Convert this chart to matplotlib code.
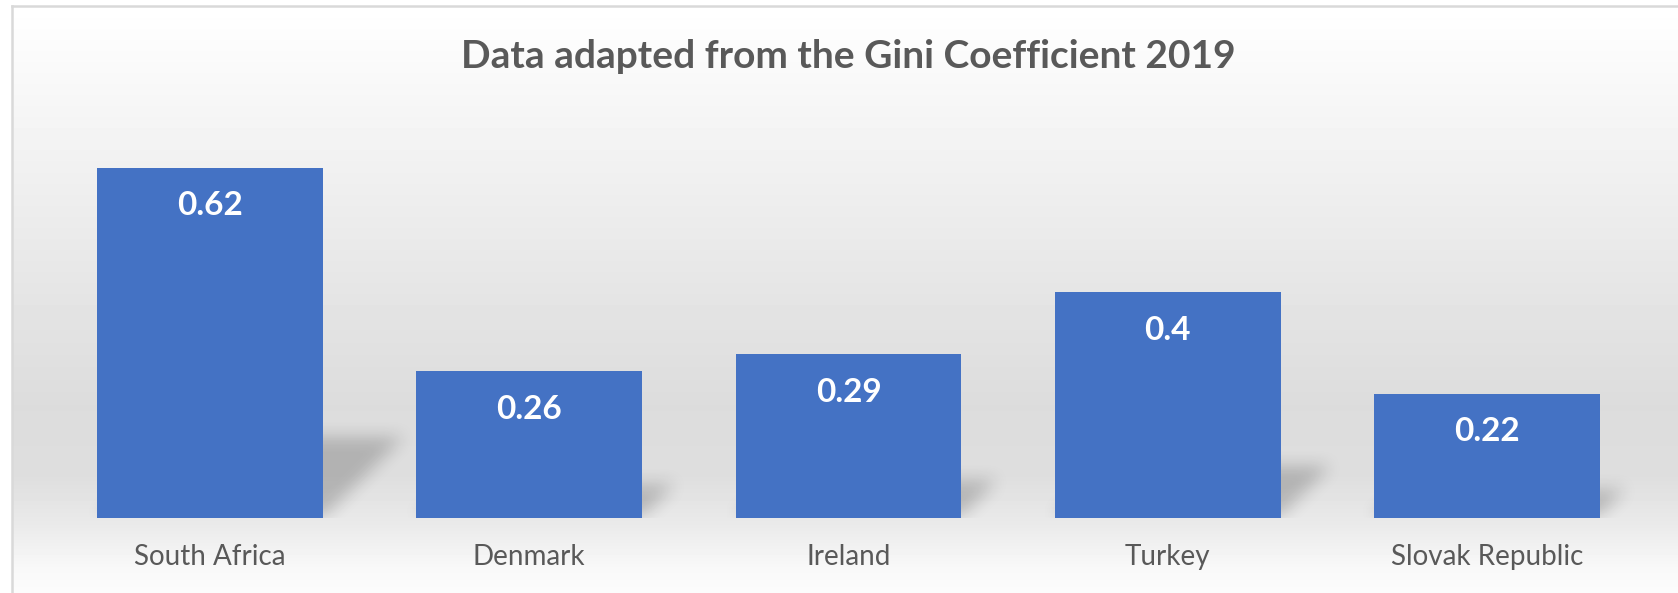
import numpy as np
import matplotlib
matplotlib.use("Agg")
import matplotlib.pyplot as plt
from matplotlib.lines import Line2D

countries = ["South Africa", "Denmark", "Ireland", "Turkey", "Slovak Republic"]
gini = [0.62, 0.26, 0.29, 0.4, 0.22]
value_labels = ["0.62", "0.26", "0.29", "0.4", "0.22"]
title = "Data adapted from the Gini Coefficient 2019"

W, H = 1678, 593
fig = plt.figure(figsize=(W / 100, H / 100), dpi=100)
fig.patch.set_facecolor("white")

# background gradient inside the chart frame
bg = fig.add_axes([12 / W, 0, 1 - 12 / W, 1 - 6 / H], zorder=0)
rows = np.array([0, 100, 200, 300, 400, 470, 518, 560, 587])
shade = np.array([255, 246, 237, 228, 220, 222, 234, 248, 252])
yy = np.arange(587)
col = np.interp(yy, rows, shade) / 255.0
grad = np.repeat(col[:, None], 50, axis=1)
bg.imshow(grad, cmap="gray", vmin=0, vmax=1, aspect="auto",
          extent=[0, 1, 0, 1], origin="upper")
bg.set_axis_off()

# frame lines (top and left)
fig.add_artist(Line2D([12 / W, 12 / W], [0, 1 - 6 / H], color="#d9d9d9", lw=1.8))
fig.add_artist(Line2D([12 / W, 1], [1 - 6 / H, 1 - 6 / H], color="#d9d9d9", lw=1.8))

# main axes
px_unit = 564.5
ytop = 0.7
base_px = 518
ax = fig.add_axes([50.5 / W, (H - base_px) / H, 1596 / W, ytop * px_unit / H], zorder=1)
ax.patch.set_alpha(0)
x = np.arange(len(countries))
ax.set_xlim(-0.5, len(countries) - 0.5)
ax.set_ylim(0, ytop)
width = 0.708

# blurred perspective shadows
xs_px = 319.2
nx, ny = 1600, int(ytop * px_unit)
gx = np.arange(nx)
gy = np.arange(ny)
GX, GY = np.meshgrid(gx, gy)
mask = np.zeros((ny, nx))
for xi, v in zip(x, gini):
    h = v * px_unit
    dy = 0.23 * h
    dx = 1.0 * dy
    xl = (xi - width / 2 + 0.5) * xs_px
    xr = (xi + width / 2 + 0.5) * xs_px
    shift = GY * dx / dy
    m = (GY <= dy) & (GX >= xl + shift) & (GX <= xr + shift)
    mask = np.maximum(mask, m.astype(float))


def box_blur(a, r, axis):
    k = np.ones(2 * r + 1) / (2 * r + 1)
    return np.apply_along_axis(lambda s: np.convolve(s, k, mode="same"), axis, a)


for _ in range(2):
    mask = box_blur(mask, 9, 0)
    mask = box_blur(mask, 9, 1)

rgba = np.zeros((ny, nx, 4))
rgba[..., 3] = mask * 0.2
ax.imshow(rgba, origin="lower", aspect="auto",
          extent=[-0.5, len(countries) - 0.5, 0, ny / px_unit], zorder=1)

bars = ax.bar(x, gini, width=width, color="#4472C4", zorder=2)
for xi, v, lab in zip(x, gini, value_labels):
    ax.text(xi, v - 0.067, lab, ha="center", va="center", color="white",
            fontsize=24, fontweight="bold", family="Lato", zorder=3)

ax.set_xticks(x)
ax.set_xticklabels(countries, fontsize=20, color="#595959", family="Lato")
ax.tick_params(axis="x", length=0, pad=19)
ax.set_yticks([])
for s in ax.spines.values():
    s.set_visible(False)

fig.text(848.5 / W, 1 - 57 / H, title, ha="center", va="center",
         fontsize=28, fontweight="bold", color="#595959", family="Lato")

fig.savefig("out.png", dpi=100)
